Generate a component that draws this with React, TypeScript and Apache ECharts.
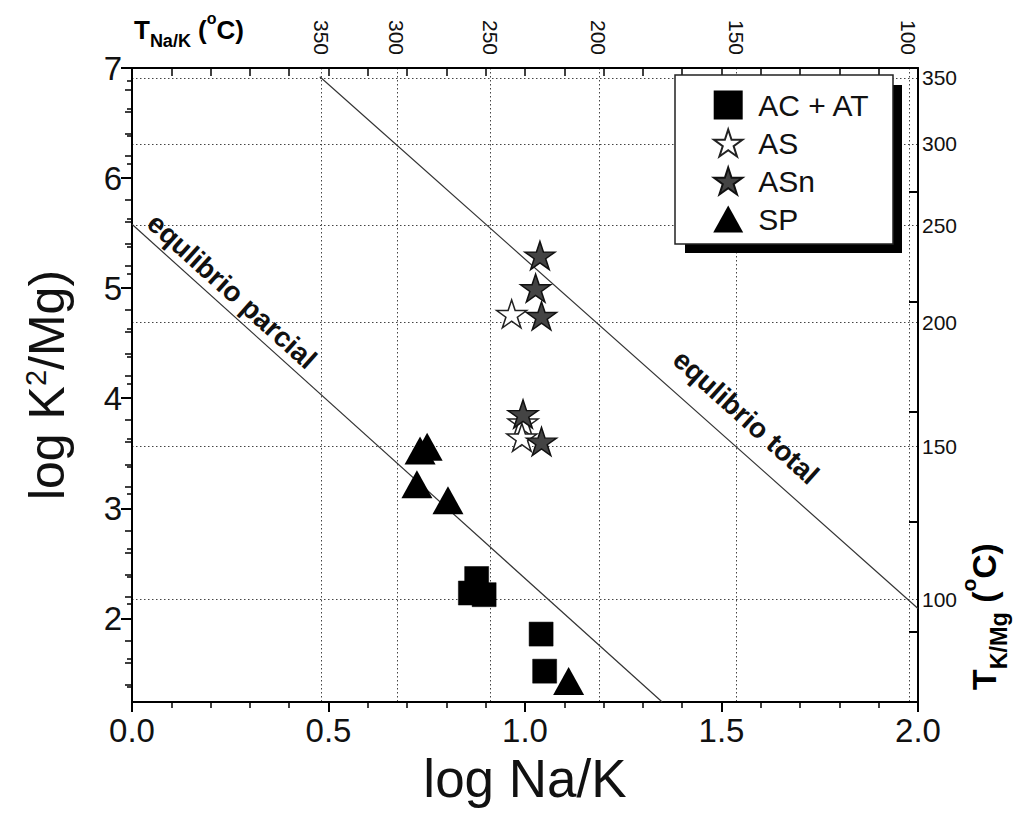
import React, { useEffect, useRef } from 'react';
import * as echarts from 'echarts';

const FONT = "'Liberation Sans', Arial, Helvetica, sans-serif";

// ---- data ----
const acAtData: number[][] = [[0.877, 2.362], [0.861, 2.23], [0.896, 2.215], [1.041, 1.857], [1.05, 1.52]];
const asData: number[][] = [[0.966, 4.766], [0.995, 3.78], [0.992, 3.644]];
const asnData: number[][] = [[1.038, 5.297], [1.027, 5.0], [1.042, 4.748], [0.995, 3.857], [1.042, 3.607]];
const spData: number[][] = [[0.733, 3.525], [0.751, 3.56], [0.725, 3.218], [0.804, 3.073], [1.111, 1.43]];

const totalLine: number[][] = [[0.478, 6.92], [2.0, 2.09]];
const partialLine: number[][] = [[0.0, 5.58], [1.349, 1.24]];

const legendNames = ['AC + AT', 'AS', 'ASn', 'SP'];
const yMajorTicks = [2, 3, 4, 5, 6, 7];
const topTempLabels = ['350', '300', '250', '200', '150', '100'];
const topTempPos = [0.481, 0.674, 0.911, 1.188, 1.537, 1.977];
const rightTempLabels = ['350', '300', '250', '200', '150', '100'];
const rightTempPos = [6.91, 6.31, 5.57, 4.69, 3.56, 2.17];
const rightMajorTicks = [1.88, 2.88, 3.88, 4.88, 5.88];

const X_MIN = 0, X_MAX = 2, Y_MIN = 1.24, Y_MAX = 7;

const STAR = 'path://M50,0L61.2,34.5L97.6,34.5L68.2,55.9L79.4,90.5L50,69.1L20.6,90.5L31.8,55.9L2.4,34.5L38.8,34.5Z';
const SQUARE = 'path://M0,0H10V10H0Z';
const TRI = 'path://M5,0L10,9L0,9Z';

function minorTicks(start: number, step: number, end: number, skip: number[]) {
  const out: number[] = [];
  for (let v = start; v <= end + 1e-9; v += step) {
    const r = Math.round(v * 1000) / 1000;
    if (!skip.some((s) => Math.abs(s - r) < 1e-6)) out.push(r);
  }
  return out;
}

const lookup = (pos: number[], labels: string[]) => (v: number) => {
  const i = pos.findIndex((p) => Math.abs(p - v) < 1e-6);
  return i >= 0 ? labels[i] : '';
};

export default function App() {
  const ref = useRef<HTMLDivElement>(null);
  useEffect(() => {
    if (!ref.current) return;
    const chart = echarts.init(ref.current, undefined, { renderer: 'svg' });
    const leftMinor = minorTicks(1.4, 0.2, 6.8, yMajorTicks);
    const rightMinor = minorTicks(1.38, 0.25, 6.88, rightMajorTicks);
    const black = '#000';
    const grid = { left: 132, right: 103, top: 68, bottom: 119 };
    const option: any = {
      animation: false,
      backgroundColor: '#fff',
      grid,
      textStyle: { fontFamily: FONT },
      legend: {
        show: true,
        orient: 'vertical',
        left: 713,
        top: 90,
        padding: 0,
        itemWidth: 50,
        itemHeight: 27,
        itemGap: 8,
        selectedMode: false,
        z: 10,
        textStyle: { fontFamily: FONT, fontSize: 30, color: '#111', lineHeight: 27 },
        data: [
          { name: legendNames[0], icon: SQUARE },
          { name: legendNames[1], icon: STAR },
          { name: legendNames[2], icon: STAR },
          { name: legendNames[3], icon: TRI },
        ],
      },
      xAxis: [
        {
          type: 'value', position: 'bottom', min: X_MIN, max: X_MAX, interval: 0.5,
          axisLine: { show: true, onZero: false, lineStyle: { color: black, width: 2 } },
          axisTick: { show: true, inside: false, length: 10, lineStyle: { color: black, width: 2 } },
          minorTick: { show: true, splitNumber: 5, length: 6, lineStyle: { color: black, width: 1.5 } },
          axisLabel: { show: true, fontSize: 33, color: '#111', margin: 12, fontFamily: FONT, formatter: (v: number) => v.toFixed(1) },
          splitLine: { show: false },
          name: 'log Na/K', nameLocation: 'middle', nameGap: 50,
          nameTextStyle: { fontSize: 53, color: '#111', fontFamily: FONT },
        },
        {
          type: 'value', position: 'top', min: X_MIN, max: X_MAX, interval: 0.1,
          axisLine: { show: true, onZero: false, lineStyle: { color: black, width: 2 } },
          axisTick: { show: true, inside: true, length: 8, lineStyle: { color: black, width: 1.5 } },
          axisLabel: { show: false }, splitLine: { show: false },
        },
        {
          type: 'value', position: 'top', min: X_MIN, max: X_MAX,
          axisLine: { show: false },
          axisTick: { show: false, customValues: topTempPos },
          axisLabel: {
            show: true, customValues: topTempPos, rotate: 90, margin: 13, fontSize: 21, color: '#111', fontFamily: FONT,
            formatter: lookup(topTempPos, topTempLabels),
          },
          splitLine: { show: true, lineStyle: { color: '#444', width: 1, type: [1.5, 2.5] } },
        },
      ],
      yAxis: [
        {
          type: 'value', position: 'left', min: Y_MIN, max: Y_MAX,
          axisLine: { show: true, onZero: false, lineStyle: { color: black, width: 2 } },
          axisTick: { show: true, inside: false, length: 11, customValues: yMajorTicks, lineStyle: { color: black, width: 2 } },
          axisLabel: { show: true, customValues: yMajorTicks, fontSize: 33, color: '#111', margin: 10, fontFamily: FONT },
          splitLine: { show: false },
          name: 'log K{sup|2}/Mg)', nameLocation: 'middle', nameGap: 60, nameRotate: 90,
          nameTextStyle: {
            fontSize: 50, color: '#111', fontFamily: FONT,
            rich: { sup: { fontSize: 29, color: '#111', fontFamily: FONT, verticalAlign: 'top', padding: [0, 0, 22, 0] } },
          },
        },
        {
          type: 'value', position: 'left', min: Y_MIN, max: Y_MAX,
          axisLine: { show: false },
          axisTick: { show: true, inside: false, length: 7, customValues: leftMinor, lineStyle: { color: black, width: 1.5 } },
          axisLabel: { show: false }, splitLine: { show: false },
        },
        {
          type: 'value', position: 'right', min: Y_MIN, max: Y_MAX,
          axisLine: { show: true, onZero: false, lineStyle: { color: black, width: 2 } },
          axisTick: { show: true, inside: true, length: 9, customValues: rightMajorTicks, lineStyle: { color: black, width: 2 } },
          axisLabel: { show: false }, splitLine: { show: false },
        },
        {
          type: 'value', position: 'right', min: Y_MIN, max: Y_MAX,
          axisLine: { show: false },
          axisTick: { show: true, inside: true, length: 5, customValues: rightMinor, lineStyle: { color: black, width: 1.5 } },
          axisLabel: { show: false }, splitLine: { show: false },
        },
        {
          type: 'value', position: 'right', min: Y_MIN, max: Y_MAX,
          axisLine: { show: false },
          axisTick: { show: false, customValues: rightTempPos },
          axisLabel: {
            show: true, customValues: rightTempPos, margin: 4, fontSize: 21, color: '#111', fontFamily: FONT,
            formatter: lookup(rightTempPos, rightTempLabels),
          },
          splitLine: { show: true, lineStyle: { color: '#444', width: 1, type: [1.5, 2.5] } },
        },
      ],
      series: [
        {
          name: 'equilibrio total', type: 'line', data: totalLine, symbol: 'none', silent: true,
          lineStyle: { color: '#333', width: 1.2 }, z: 1,
        },
        {
          name: 'equilibrio parcial', type: 'line', data: partialLine, symbol: 'none', silent: true,
          lineStyle: { color: '#333', width: 1.2 }, z: 1,
        },
        {
          name: legendNames[0], type: 'scatter', data: acAtData, symbol: SQUARE, symbolSize: 24, symbolKeepAspect: false,
          itemStyle: { color: '#000', borderColor: '#000', borderWidth: 0.5, opacity: 1 },
        },
        {
          name: legendNames[1], type: 'scatter', data: asData, symbol: STAR, symbolSize: [30, 28], symbolKeepAspect: false,
          itemStyle: { color: '#fff', borderColor: '#222', borderWidth: 1.5, opacity: 1 },
        },
        {
          name: legendNames[2], type: 'scatter', data: asnData, symbol: STAR, symbolSize: [30, 28], symbolKeepAspect: false,
          itemStyle: { color: '#444', borderColor: '#111', borderWidth: 1.5, opacity: 1 },
        },
        {
          name: legendNames[3], type: 'scatter', data: spData, symbol: TRI, symbolSize: [31, 28], symbolKeepAspect: false,
          itemStyle: { color: '#000', opacity: 1 },
        },
      ],
    };
    chart.setOption(option);

    const p0 = chart.convertToPixel({ gridIndex: 0 }, partialLine[0]) as number[];
    const p1 = chart.convertToPixel({ gridIndex: 0 }, partialLine[1]) as number[];
    const rot = -Math.atan2(p1[1] - p0[1], p1[0] - p0[0]);

    const mkRich = (s: number) => ({
      T: { fontSize: 26 * s, fontWeight: 'bold', fontFamily: FONT, color: '#111', lineHeight: 40 * s, verticalAlign: 'middle' },
      sub: { fontSize: 18 * s, fontWeight: 'bold', fontFamily: FONT, color: '#111', verticalAlign: 'bottom', lineHeight: 18 * s },
      sup: { fontSize: 16 * s, fontWeight: 'bold', fontFamily: FONT, color: '#111', verticalAlign: 'top', lineHeight: 18 * s },
      sp: { fontSize: 26 * s, fontFamily: FONT, lineHeight: 40 * s },
    });

    chart.setOption({
      graphic: [
        { type: 'rect', z: 8, shape: { x: 685, y: 85, width: 217, height: 168 }, style: { fill: '#000' } },
        { type: 'rect', z: 9, shape: { x: 675, y: 75, width: 218, height: 169 }, style: { fill: '#fff', stroke: '#222', lineWidth: 1.5 } },
        {
          type: 'text', z: 20, x: 232, y: 291, rotation: rot,
          style: { text: 'equlibrio parcial', fontSize: 28, fontWeight: 'bold', fontFamily: FONT, fill: '#111', align: 'center', verticalAlign: 'middle' },
        },
        {
          type: 'text', z: 20, x: 746, y: 417, rotation: rot,
          style: { text: 'equlibrio total', fontSize: 28, fontWeight: 'bold', fontFamily: FONT, fill: '#111', align: 'center', verticalAlign: 'middle' },
        },
        {
          type: 'text', z: 20, x: 134, y: 30,
          style: {
            text: '{T|T}{sub|Na/K}{sp| }{T|(}{sup|o}{T|C)}', rich: mkRich(1),
            align: 'left', verticalAlign: 'middle',
          },
        },
        {
          type: 'text', z: 20, x: 984, y: 690, rotation: Math.PI / 2,
          style: {
            text: '{T|T}{sub|K/Mg}{sp| }{T|(}{sup|o}{T|C)}', rich: mkRich(1.3),
            align: 'left', verticalAlign: 'middle',
          },
        },
      ],
    });
    return () => chart.dispose();
  }, []);
  return <div ref={ref} style={{ position: 'fixed', left: 0, top: 0, width: 1021, height: 821, background: '#fff' }} />;
}
